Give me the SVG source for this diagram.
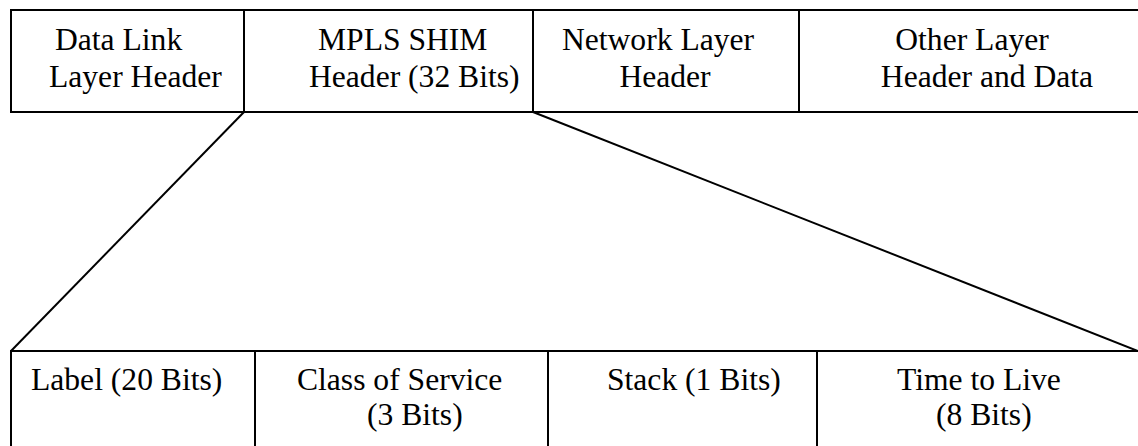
<svg xmlns="http://www.w3.org/2000/svg" width="1138" height="446" viewBox="0 0 1138 446">
<style>
.b{fill:none;stroke:#000;stroke-width:2}
.t{font-size:31.6px;fill:#000}
.m{text-anchor:middle}
</style>
<rect width="1138" height="446" fill="#fff"/>
<g font-family="'Liberation Serif', 'Times New Roman', Times, serif">
<g id="top-row">
<g id="data-link"><path class="b" d="M11,10 H244 V112 H11 Z"/><text class="t" x="55" y="50">Data Link</text><text class="t" x="49" y="87">Layer Header</text></g>
<g id="mpls-shim"><path class="b" d="M244,10 H533 V112 H244"/><text class="t" x="318" y="50">MPLS SHIM</text><text class="t" x="309" y="87">Header (32 Bits)</text></g>
<g id="network-layer"><path class="b" d="M533,10 H799 V112 H533"/><text class="t m" x="658" y="50">Network Layer</text><text class="t m" x="665" y="87">Header</text></g>
<g id="other-layer"><path class="b" d="M799,10 H1140 M1140,112 H799"/><text class="t m" x="972" y="50">Other Layer</text><text class="t m" x="987" y="87">Header and Data</text></g>
</g>
<g id="connectors">
<line class="b" x1="244" y1="112" x2="11" y2="351"/>
<line class="b" x1="533" y1="112" x2="1138" y2="351"/>
</g>
<g id="bottom-row">
<g id="label"><path class="b" d="M11,460 V351 H255 V460"/><text class="t" x="31" y="390">Label (20 Bits)</text></g>
<g id="cos"><path class="b" d="M255,351 H548 V460"/><text class="t" x="297" y="390">Class of Service</text><text class="t" x="367" y="425">(3 Bits)</text></g>
<g id="stack"><path class="b" d="M548,351 H817 V460"/><text class="t" x="607" y="390">Stack (1 Bits)</text></g>
<g id="ttl"><path class="b" d="M817,351 H1140"/><text class="t" x="897" y="390">Time to Live</text><text class="t" x="936" y="425">(8 Bits)</text></g>
</g>
</g>
</svg>
